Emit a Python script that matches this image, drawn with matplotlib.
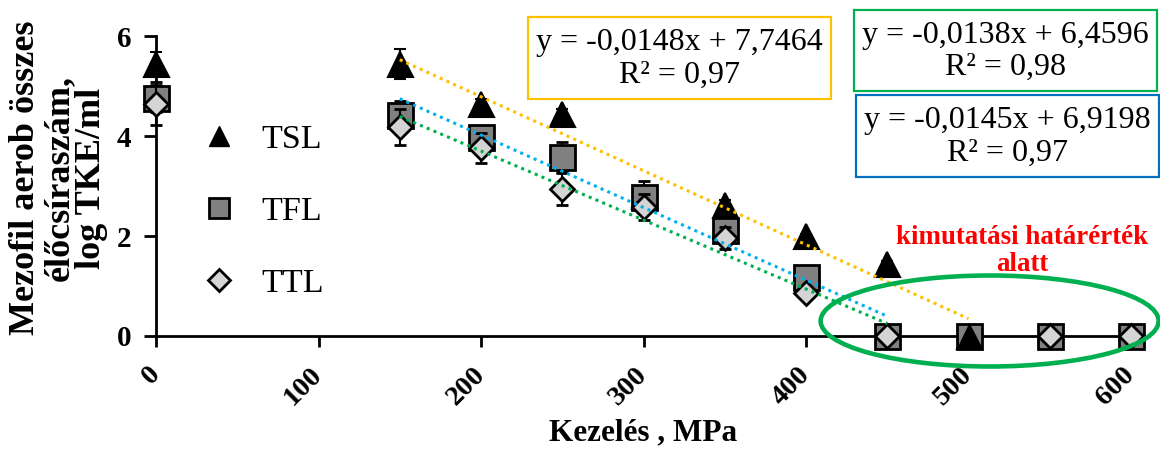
import matplotlib
matplotlib.use("Agg")
import matplotlib.pyplot as plt
import numpy as np
from matplotlib.lines import Line2D
from matplotlib.patches import Ellipse, Rectangle

plt.rcParams["font.family"] = ["Liberation Serif", "DejaVu Serif"]

# treatment pressure, MPa
pressure = [0, 150, 200, 250, 300, 350, 400, 450, 500, 550, 600]

# log CFU/ml for the three samples (nan = no point drawn)
tsl = [5.45, 5.45, 4.65, 4.45, 2.80, 2.62, 2.00, 1.45, 0.0, np.nan, np.nan]
tfl = [4.76, 4.42, 3.98, 3.58, 2.78, 2.12, 1.18, 0.0, 0.0, 0.0, 0.0]
ttl = [4.65, 4.18, 3.76, 2.94, 2.58, 1.96, 0.86, 0.0, np.nan, 0.0, 0.0]

tsl_err = [0.23, 0.30, 0.10, 0.10, 0.10, 0.10, 0.05, 0.05, 0.0, 0.0, 0.0]
tfl_err = [0.27, 0.28, 0.10, 0.30, 0.32, 0.25, 0.10, 0.0, 0.0, 0.0, 0.0]
ttl_err = [0.43, 0.36, 0.30, 0.32, 0.26, 0.22, 0.10, 0.0, 0.0, 0.0, 0.0]

# linear trends: slope, intercept, fitted pressure range, R²
tsl_fit = (-0.0148, 7.7464, 150, 500, "0,97")
tfl_fit = (-0.0145, 6.9198, 150, 450, "0,97")
ttl_fit = (-0.0138, 6.4596, 150, 450, "0,98")

yticks = [0, 2, 4, 6]
xticks = [0, 100, 200, 300, 400, 500, 600]

W, H = 1160, 450
fig = plt.figure(figsize=(W / 100, H / 100), dpi=100)
ax = fig.add_axes([156 / W, 1 - 336 / H, 975 / W, 300 / H])


def fx(px):
    return px / W


def fy(py):
    return 1 - py / H


err_kw = dict(ecolor="black", elinewidth=1.5, capsize=4, capthick=1.5, clip_on=False)

c_tsl = ax.errorbar(pressure, tsl, yerr=tsl_err, fmt="^", ms=18, mfc="black",
                    mec="black", mew=1.5, zorder=3, **err_kw)
c_tfl = ax.errorbar(pressure, tfl, yerr=tfl_err, fmt="s", ms=18, mfc="#808080",
                    mec="black", mew=2, zorder=4, **err_kw)
c_ttl = ax.errorbar(pressure, ttl, yerr=ttl_err, fmt="D", ms=12.5, mfc="#d4d4d4",
                    mec="black", mew=2, zorder=5, **err_kw)
for c in (c_tsl, c_tfl, c_ttl):
    for art in c.get_children():
        art.set_clip_on(False)

# TSL point at the detection limit sits on top of the others
tsl_arr = np.array(tsl)
x_arr = np.array(pressure)
lim = tsl_arr == 0
ax.plot(x_arr[lim], tsl_arr[lim], "^", ms=18, mfc="black", mec="black",
        zorder=6, clip_on=False)

# trend lines
for (k, b, x0, x1, _), col in ((tsl_fit, "#ffc000"), (tfl_fit, "#00b0f0"), (ttl_fit, "#00b050")):
    xs = np.array([x0, x1])
    ax.plot(xs, k * xs + b, color=col, lw=2.2, ls=(0, (1, 1.4)), zorder=7)

ax.set_xlim(0, 600)
ax.set_ylim(0, 6)
ax.set_xticks(xticks)
ax.set_yticks(yticks)
ax.set_xticklabels([str(v) for v in xticks], rotation=45, ha="right",
                   va="center", rotation_mode="anchor", fontsize=20.5, fontweight="bold")
ax.set_yticklabels([str(v) for v in yticks], fontsize=21, fontweight="bold")
ax.tick_params(axis="x", direction="out", length=8, width=2, pad=17)
ax.tick_params(axis="y", direction="out", length=9, width=2, pad=9)
for s in ("top", "right"):
    ax.spines[s].set_visible(False)
for s in ("left", "bottom"):
    ax.spines[s].set_linewidth(2)
ax.patch.set_visible(False)

# legend
handles = [
    Line2D([], [], ls="none", marker="^", ms=15, mfc="black", mec="black"),
    Line2D([], [], ls="none", marker="s", ms=14, mfc="#808080", mec="black", mew=2),
    Line2D([], [], ls="none", marker="D", ms=11, mfc="#d4d4d4", mec="black", mew=2),
]
ax.legend(handles, ["TSL", "TFL", "TTL"], loc="upper left",
          bbox_to_anchor=(0.047, 0.705), frameon=False, prop={"size": 24.5},
          handlelength=1.0, handletextpad=0.76, labelspacing=1.2,
          borderpad=0, borderaxespad=0)

# below-detection-limit region
ax.add_patch(Ellipse((513, 0.3), 208, 1.82, fill=False, ec="#00b050", lw=3.3,
                     clip_on=False, zorder=8))
fig.text(fx(1022), fy(251), "kimutatási határérték\nalatt", color="red",
         fontsize=19.4, fontweight="bold", ha="center", va="center",
         linespacing=1.1)

# trend equation boxes
boxes = [
    ((528, 17, 831, 99), "#ffc000", tsl_fit),
    ((854, 10, 1157, 91), "#00b050", ttl_fit),
    ((856, 95, 1159, 177), "#0070c0", tfl_fit),
]
for (x0, y0, x1, y1), col, (k, b, _, _, r2) in boxes:
    fig.patches.append(Rectangle((fx(x0), fy(y1)), fx(x1) - fx(x0), fy(y0) - fy(y1),
                                 transform=fig.transFigure, fill=False, ec=col, lw=1.6))
    eq = f"y = {k:.4f}x + {b:.4f}".replace(".", ",")
    fig.text(fx((x0 + x1) / 2), fy((y0 + y1) / 2 + 1), f"{eq}\nR² = {r2}",
             fontsize=23, ha="center", va="center", linespacing=1.15)

fig.text(fx(59), fy(178), "Mezofil aerob összes\nélőcsíraszám,\nlog TKE/ml",
         rotation=90, fontsize=26, fontweight="bold", ha="center", va="center",
         multialignment="center", linespacing=1.0)
fig.text(fx(643), fy(433), "Kezelés , MPa", fontsize=22.5, fontweight="bold",
         ha="center", va="center")

fig.savefig("out.png", dpi=100)
